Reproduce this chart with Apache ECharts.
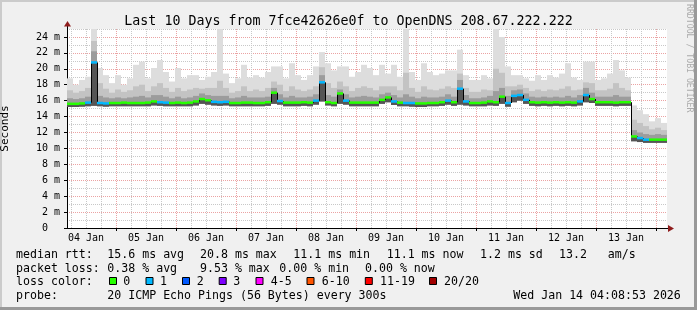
<!DOCTYPE html>
<html><head><meta charset="utf-8">
<script src="https://cdn.jsdelivr.net/npm/echarts@6/dist/echarts.min.js"></script>
<style>html,body{margin:0;padding:0;background:#f0f0f0;}#c{width:697px;height:310px;}</style>
</head><body><div id="c"></div>
<script>
// time axis in hours since 04 Jan 00:00; one sample every 2.4 h (RRD start / step)
const startHour = 4.4;
const stepHours = 2.4;
const endHour = 244.4;

// median rtt (ms) per sample
const median = [
 15.6,15.6,15.65,15.75,20.8,15.7,15.65,15.7,15.7,15.75,
 15.7,15.7,15.7,15.75,15.9,15.8,15.75,15.7,15.75,15.7,
 15.75,15.9,16.2,16.05,15.85,15.8,15.85,15.7,15.7,15.75,
 15.75,15.7,15.7,15.8,17.0,15.95,15.75,15.75,15.75,15.8,
 15.75,16.0,18.3,15.8,15.7,16.9,16.0,15.75,15.75,15.75,
 15.75,15.75,16.1,16.4,15.9,15.75,15.7,15.7,15.65,15.65,
 15.7,15.7,15.8,16.0,15.8,17.5,15.9,15.7,15.7,15.75,
 15.9,15.8,16.5,15.7,16.6,16.7,16.1,15.8,15.75,15.8,
 15.75,15.8,15.75,15.8,15.75,15.9,16.7,16.2,15.8,15.8,
 15.8,15.75,15.8,15.8,11.5,11.3,11.1,11.1,11.1,11.1
];
// packet loss class per sample (index into lossColors)
const lossLevel = [
 0,0,0,1,1,1,1,0,0,0,
 0,0,0,0,0,1,1,0,0,0,
 0,0,0,0,1,1,1,0,0,0,
 0,0,0,0,0,1,0,0,0,0,
 0,1,1,0,0,0,1,0,0,0,
 0,0,0,0,1,0,1,1,0,0,
 0,0,0,1,0,1,1,0,0,0,
 0,0,0,1,1,1,1,0,0,0,
 0,0,0,0,0,1,1,0,0,0,
 0,0,0,0,0,1,1,0,0,0
];
// smoke: lowest ping, dark band top, medium band top, highest ping (ms)
const smokeMin = [
 15.2,15.2,15.25,15.3,15.35,15.3,15.25,15.3,15.3,15.3,
 15.3,15.3,15.3,15.3,15.4,15.35,15.3,15.3,15.3,15.3,
 15.3,15.4,15.6,15.5,15.4,15.35,15.4,15.3,15.3,15.3,
 15.3,15.3,15.3,15.35,15.6,15.5,15.3,15.3,15.3,15.35,
 15.3,15.5,15.9,15.4,15.3,15.6,15.5,15.3,15.3,15.3,
 15.3,15.3,15.6,15.8,15.45,15.3,15.3,15.25,15.2,15.2,
 15.3,15.3,15.35,15.5,15.35,15.5,15.4,15.3,15.3,15.3,
 15.4,15.35,15.6,15.25,15.8,16.0,15.6,15.35,15.3,15.35,
 15.3,15.35,15.3,15.35,15.3,15.4,15.8,15.7,15.35,15.35,
 15.35,15.3,15.35,15.35,10.9,10.8,10.7,10.7,10.7,10.7
];
const smokeDark = [
 16.3,16.2,16.3,16.5,22.2,16.6,16.4,16.3,16.4,16.3,
 16.4,16.5,16.6,16.4,16.7,16.7,16.5,16.3,16.5,16.3,
 16.4,16.6,16.9,16.7,16.6,16.6,16.6,16.3,16.4,16.6,
 16.4,16.4,16.4,16.5,17.6,16.8,16.4,16.6,16.4,16.4,
 16.5,16.8,19.2,16.7,16.5,17.4,16.8,16.4,16.5,16.6,
 16.5,16.4,16.8,17.0,16.7,16.4,16.8,16.5,16.3,16.5,
 16.4,16.4,16.5,16.8,16.5,18.6,16.7,16.3,16.3,16.4,
 16.6,17.2,17.6,16.6,17.3,17.4,16.9,16.5,16.4,16.5,
 16.4,16.5,16.4,16.6,16.4,16.7,17.6,17.0,16.5,16.5,
 16.5,16.7,16.5,16.5,12.3,12.0,11.8,11.7,11.8,11.7
];
const smokeMid = [
 17.3,17.0,17.2,17.6,23.5,18.2,17.5,17.0,17.4,17.1,
 17.3,17.8,18.0,17.2,17.8,18.2,17.6,17.1,17.6,17.2,
 17.4,17.6,17.5,17.6,17.6,18.5,17.6,17.0,17.2,17.8,
 17.2,17.4,17.2,17.6,18.4,18.0,17.2,17.8,17.4,17.2,
 17.4,17.8,20.2,18.2,17.6,18.4,17.8,17.2,17.6,17.8,
 17.6,17.3,17.8,17.8,17.8,17.3,19.5,17.6,17.1,17.8,
 17.4,17.3,17.5,17.8,17.6,19.4,17.6,17.1,17.1,17.4,
 17.3,20.0,19.5,17.8,17.8,18.0,17.6,17.2,17.4,17.2,
 17.4,17.3,17.5,17.8,17.3,17.4,18.3,18.2,17.3,17.3,
 17.5,18.2,17.6,17.3,13.6,13.2,12.8,12.4,12.6,12.3
];
const smokeMax = [
 18.8,18.0,18.6,19.0,25.0,20.1,19.2,18.2,19.2,18.0,
 18.8,20.5,20.9,18.8,20.1,21.1,19.6,18.4,20.1,18.8,
 19.2,19.2,18.6,19.0,19.6,25.0,19.4,18.2,18.8,20.5,
 18.9,19.2,18.9,19.6,20.3,20.3,18.8,20.7,19.2,18.6,
 19.2,20.3,22.1,20.7,19.8,20.3,20.3,19.0,19.6,20.5,
 20.1,19.2,20.5,19.4,20.5,19.0,25.0,19.6,18.6,20.7,
 19.6,19.2,19.4,19.8,19.8,22.4,19.2,18.6,18.6,19.2,
 18.8,25.0,24.0,20.3,19.2,19.2,18.8,18.5,19.2,18.6,
 19.2,18.9,19.4,20.7,18.9,18.6,20.9,20.9,18.6,18.8,
 19.4,21.1,19.8,18.9,15.4,14.8,14.3,13.4,13.8,13.2
];

const dayLabels = ['04 Jan','05 Jan','06 Jan','07 Jan','08 Jan','09 Jan','10 Jan','11 Jan','12 Jan','13 Jan'];
const yMajorTicks = [0,2,4,6,8,10,12,14,16,18,20,22,24];
const yMinorTicks = [1,3,5,7,9,11,13,15,17,19,21,23,25];
const lossColors = ['#26ff00','#00b8ff','#0059ff','#7e00ff','#ff00ff','#ff5500','#ff0000','#a10000'];
const lossNames = ['0','1','2','3','4-5','6-10','11-19','20/20'];
const titleText = 'Last 10 Days from 7fce42626e0f to OpenDNS 208.67.222.222';
const statsRtt = ['median rtt:','15.6 ms avg','20.8 ms max','11.1 ms min','11.1 ms now','1.2 ms sd','13.2','am/s'];
const statsLoss = ['packet loss:','0.38 % avg','9.53 % max','0.00 % min','0.00 % now'];
const probeText = ['probe:','20 ICMP Echo Pings (56 Bytes) every 300s','Wed Jan 14 04:08:53 2026'];

// grid positions (hours)
const xMajor = [], xMinor = [], xLabelPos = [];
for (let h = 24; h <= endHour; h += 24) xMajor.push(h);
for (let h = 6; h <= endHour; h += 6) if (h % 24 !== 0) xMinor.push(h);
for (let k = 0; k < dayLabels.length; k++) xLabelPos.push(12 + 24 * k);

const MONO = '"DejaVu Sans Mono", monospace';
const smokeData = median.map((m, i) => [startHour + i * stepHours, smokeMin[i], smokeDark[i], smokeMid[i], smokeMax[i], m]);
const medData = median.map((m, i) => [startHour + i * stepHours, m, i > 0 ? median[i - 1] : m, lossLevel[i]]);

function bandRect(api, t0, lo, hi, color) {
  const a = api.coord([t0, hi]);
  const b = api.coord([t0 + stepHours, lo]);
  return {type: 'rect', shape: {x: a[0], y: a[1], width: b[0] - a[0], height: b[1] - a[1]}, style: {fill: color}};
}
function smokeItem(params, api) {
  const t0 = api.value(0);
  return {type: 'group', children: [
    bandRect(api, t0, api.value(1), api.value(4), '#dddddd'),
    bandRect(api, t0, api.value(1), api.value(3), '#c3c3c3'),
    bandRect(api, t0, api.value(1), api.value(2), '#9c9c9c'),
    bandRect(api, t0, api.value(1), api.value(5), '#555555')
  ]};
}
function medianItem(params, api) {
  const t0 = api.value(0), m = api.value(1), prev = api.value(2), lvl = api.value(3);
  const a = api.coord([t0, m]);
  const b = api.coord([t0 + stepHours, m]);
  const p = api.coord([t0, prev]);
  const xv = Math.round(a[0]) + 0.5;
  return {type: 'group', children: [
    {type: 'line', shape: {x1: xv, y1: p[1], x2: xv, y2: a[1]}, style: {stroke: '#000', lineWidth: 1}},
    {type: 'rect', shape: {x: a[0], y: a[1] - 1.25, width: b[0] - a[0], height: 2.5}, style: {fill: lossColors[lvl]}}
  ]};
}

function txt(id, text, x, y, size, extra) {
  return Object.assign({type: 'text', id: id, x: x, y: y, silent: true, z: 10,
    style: {text: text, font: size + 'px ' + MONO, fill: '#000', align: 'left', verticalAlign: 'middle'}}, extra || {});
}

const graphics = [];
graphics.push({type: 'rect', id: 'bt', shape: {x: 0, y: 0, width: 697, height: 2}, style: {fill: '#cbcbcb'}, silent: true});
graphics.push({type: 'rect', id: 'bl', shape: {x: 0, y: 0, width: 2, height: 310}, style: {fill: '#cbcbcb'}, silent: true});
graphics.push({type: 'rect', id: 'br', shape: {x: 694, y: 0, width: 3, height: 310}, style: {fill: '#999999'}, silent: true});
graphics.push({type: 'rect', id: 'bb', shape: {x: 0, y: 307, width: 697, height: 3}, style: {fill: '#999999'}, silent: true});
graphics.push({type: 'text', id: 'wm', x: 689, y: 4, rotation: -Math.PI / 2, silent: true,
  style: {text: 'RRDTOOL / TOBI OETIKER', font: '8.2px ' + MONO, fill: '#ababab', align: 'left', verticalAlign: 'middle'}});

const rttX = [16, 107.3, 200, 293.3, 386.7, 480, 559, 607.7];
statsRtt.forEach((s, i) => graphics.push(txt('r' + i, s, rttX[i], 255, 11.6)));
const lossX = [16, 107.3, 200, 279.3, 365];
statsLoss.forEach((s, i) => graphics.push(txt('l' + i, s, lossX[i], 268.5, 11.6)));
graphics.push(txt('lc', 'loss color:', 16, 282, 11.6));
const boxX = [109.5, 146, 182.5, 219.2, 256, 307, 365.3, 429.5];
const boxLabelX = [123.3, 160, 196.7, 233.3, 270.7, 321.7, 380, 444];
lossNames.forEach((n, i) => {
  graphics.push({type: 'rect', id: 'bx' + i, shape: {x: boxX[i], y: 277.5, width: 7, height: 7}, silent: true, z: 10,
    style: {fill: lossColors[i], stroke: '#000', lineWidth: 1}});
  graphics.push(txt('bl' + i, n, boxLabelX[i], 282, 11.6));
});
const probeX = [16, 107.3, 513.3];
probeText.forEach((s, i) => graphics.push(txt('p' + i, s, probeX[i], 295.5, 11.6)));

const chart = echarts.init(document.getElementById('c'), null, {renderer: 'canvas'});
chart.setOption({
  animation: false,
  backgroundColor: '#f0f0f0',
  title: {text: titleText, left: 'center', top: 10,
    textStyle: {fontFamily: MONO, fontSize: 13.3, fontWeight: 'normal', color: '#000'}},
  grid: {left: 67, right: 30, top: 29, bottom: 82, show: true, backgroundColor: '#ffffff', borderWidth: 0,
    containLabel: false, outerBoundsMode: 'none'},
  xAxis: [
    {type: 'value', min: startHour, max: endHour, position: 'top',
      axisLine: {show: false}, axisLabel: {show: false},
      axisTick: {show: false, customValues: xMinor},
      splitLine: {show: true, lineStyle: {color: '#c8c8c8', width: 1, type: [1, 1]}}},
    {type: 'value', min: startHour, max: endHour, position: 'bottom',
      axisLine: {show: true, onZero: false, lineStyle: {color: '#000', width: 1}},
      axisTick: {show: true, length: 3, customValues: xMajor, lineStyle: {color: '#000'}},
      axisLabel: {show: true, customValues: xLabelPos, margin: 5, fontFamily: MONO, fontSize: 10, color: '#000',
        formatter: v => dayLabels[Math.round((v - 12) / 24)]},
      splitLine: {show: true, lineStyle: {color: '#eba3a3', width: 1, type: [1, 1]}}}
  ],
  yAxis: [
    {type: 'value', min: 0, max: 25, position: 'right',
      axisLine: {show: false}, axisLabel: {show: false},
      axisTick: {show: false, customValues: yMinorTicks},
      splitLine: {show: true, lineStyle: {color: '#c8c8c8', width: 1, type: [1, 1]}}},
    {type: 'value', min: 0, max: 25, position: 'left',
      name: 'Seconds', nameLocation: 'middle', nameGap: 56, nameRotate: 90,
      nameTextStyle: {fontFamily: MONO, fontSize: 11, color: '#000'},
      axisLine: {show: true, onZero: false, lineStyle: {color: '#000', width: 1}},
      axisTick: {show: true, length: 3, customValues: yMajorTicks, lineStyle: {color: '#000'}},
      axisLabel: {show: true, customValues: yMajorTicks, margin: 7, fontFamily: MONO, fontSize: 10, color: '#000',
        formatter: v => v === 0 ? '0  ' : v + ' m'},
      splitLine: {show: true, lineStyle: {color: '#eba3a3', width: 1, type: [1, 1]}}}
  ],
  series: [
    {type: 'custom', name: 'smoke', xAxisIndex: 1, yAxisIndex: 1, data: smokeData, renderItem: smokeItem,
      encode: {x: 0, y: [1, 4]}, clip: true, silent: true, z: 3},
    {type: 'custom', name: 'median', xAxisIndex: 1, yAxisIndex: 1, data: medData, renderItem: medianItem,
      encode: {x: 0, y: 1}, clip: true, silent: true, z: 4}
  ],
  graphic: graphics
});

// axis arrows (dark red), placed from the axes' own scale
const yTop = chart.convertToPixel({yAxisIndex: 1}, 25);
const yZero = chart.convertToPixel({yAxisIndex: 1}, 0);
const xLeft = chart.convertToPixel({xAxisIndex: 1}, startHour);
const xRight = chart.convertToPixel({xAxisIndex: 1}, endHour);
const ax = Math.round(xLeft) + 0.5, ay = Math.round(yZero) + 0.5;
chart.setOption({graphic: [
  {type: 'line', id: 'yext', shape: {x1: ax, y1: yTop, x2: ax, y2: yTop - 3}, style: {stroke: '#000', lineWidth: 1}, silent: true},
  {type: 'polygon', id: 'yarr', shape: {points: [[ax - 3.5, yTop - 2.5], [ax + 3.5, yTop - 2.5], [ax, yTop - 8]]},
    style: {fill: '#8f1d1d'}, silent: true},
  {type: 'line', id: 'xext', shape: {x1: xRight, y1: ay, x2: xRight + 2, y2: ay}, style: {stroke: '#000', lineWidth: 1}, silent: true},
  {type: 'polygon', id: 'xarr', shape: {points: [[xRight + 1, ay - 3.5], [xRight + 1, ay + 3.5], [xRight + 7, ay]]},
    style: {fill: '#8f1d1d'}, silent: true}
]});
</script></body></html>
